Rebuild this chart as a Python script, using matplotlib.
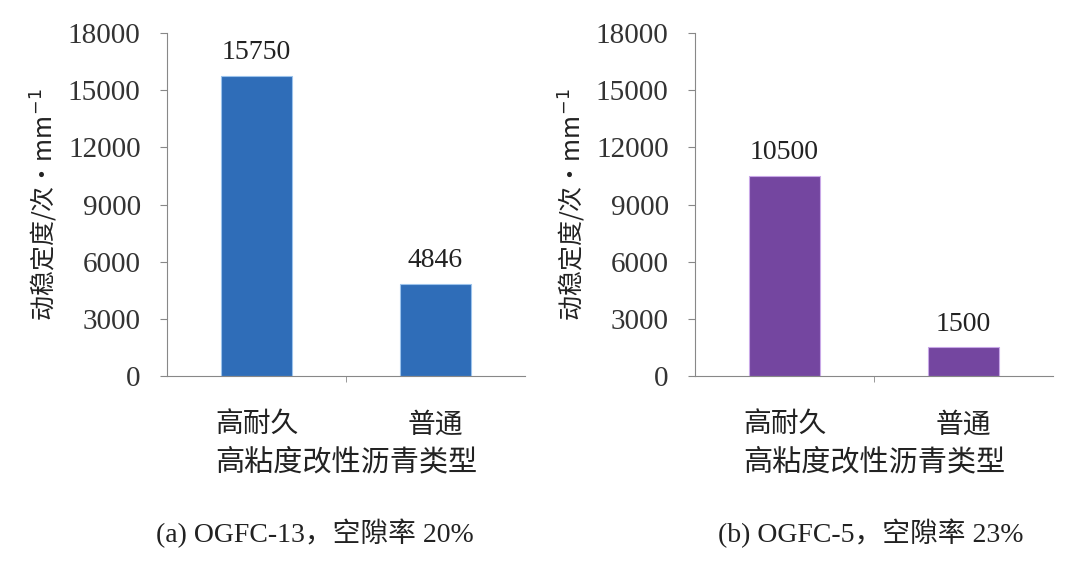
import matplotlib
matplotlib.use('Agg')
import matplotlib.pyplot as plt
import numpy as np

categories = ['高耐久', '普通']
vals_a = [15750, 4846]
vals_b = [10500, 1500]
yticks = [0, 3000, 6000, 9000, 12000, 15000, 18000]
xlabel = '高粘度改性沥青类型'
ylabel = '动稳定度/次·mm$^{-1}$'
captions = ['(a) OGFC-13，空隙率 20%', '(b) OGFC-5，空隙率 23%']

serif = ['Liberation Serif', 'Noto Sans CJK SC']
cjk = ['Noto Sans CJK SC', 'DejaVu Sans']

fig = plt.figure(figsize=(10.86, 5.8), dpi=100)
ax_a = fig.add_axes([0.1538, 0.3517, 0.3296, 0.5914])
ax_b = fig.add_axes([0.6400, 0.3517, 0.3296, 0.5914])


def draw(ax, vals, color, edge):
    x = np.arange(len(categories))
    ax.bar(x, vals, width=0.4, color=color, edgecolor=edge, linewidth=0.8)
    for xi, v in zip(x, vals):
        ax.text(xi, v + 550, str(v), ha='center', va='bottom',
                fontsize=20, family=serif, color='#222222')
    ax.set_xlim(-0.5, 1.5)
    ax.set_ylim(0, 18000)
    ax.set_yticks(yticks)
    ax.set_yticklabels([str(t) for t in yticks], family=serif, fontsize=21, color='#333333')
    ax.set_xticks(x)
    ax.set_xticklabels(categories, family=cjk, fontsize=20, color='#222222')
    ax.tick_params(axis='x', length=0, pad=24)
    ax.set_xticks([0.5], minor=True)
    ax.tick_params(axis='x', which='minor', length=4, color='#888888')
    ax.tick_params(axis='y', length=5, color='#888888', pad=14)
    for s in ['top', 'right']:
        ax.spines[s].set_visible(False)
    for s in ['left', 'bottom']:
        ax.spines[s].set_color('#888888')
    ax.set_xlabel(xlabel, family=cjk, fontsize=21, color='#222222', labelpad=6)
    ax.set_ylabel(ylabel, family=cjk, fontsize=18, color='#222222', labelpad=6)


draw(ax_a, vals_a, '#2f6db8', '#9cc3ec')
draw(ax_b, vals_b, '#7446a0', '#c9a8e8')

fig.text(0.290, 0.081, captions[0], ha='center', va='center',
         family=serif, fontsize=20, color='#222222')
fig.text(0.802, 0.081, captions[1], ha='center', va='center',
         family=serif, fontsize=20, color='#222222')

fig.savefig('out.png', dpi=100, facecolor='white')
